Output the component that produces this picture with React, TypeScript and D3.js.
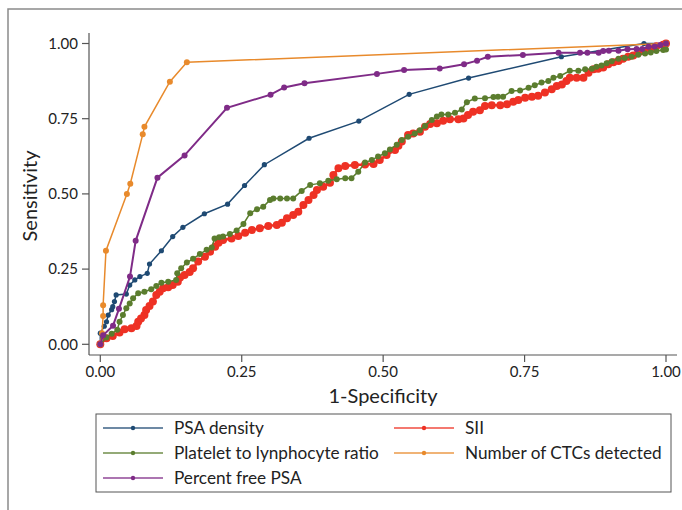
import * as d3 from 'd3';

type Pt = [number, number];

const xTicks = [0, 0.25, 0.5, 0.75, 1];
const yTicks = [0, 0.25, 0.5, 0.75, 1];

const psaDensity: Pt[] = [
  [0, 0], [0, 0.037], [0.007, 0.06], [0.011, 0.075], [0.014, 0.097], [0.02, 0.115],
  [0.022, 0.125], [0.025, 0.142], [0.028, 0.164], [0.046, 0.167], [0.052, 0.197],
  [0.061, 0.214], [0.07, 0.225], [0.083, 0.236], [0.087, 0.267], [0.108, 0.311],
  [0.128, 0.358], [0.146, 0.389], [0.184, 0.434], [0.225, 0.466], [0.255, 0.528],
  [0.29, 0.597], [0.369, 0.685], [0.457, 0.742], [0.546, 0.831], [0.651, 0.885],
  [0.815, 0.956], [0.961, 1], [1, 1],
];

const sii: Pt[] = [
  [0, 0], [0.011, 0.02], [0.022, 0.028], [0.034, 0.039], [0.043, 0.05], [0.055, 0.053],
  [0.064, 0.061], [0.067, 0.075], [0.072, 0.086], [0.078, 0.097], [0.081, 0.114],
  [0.087, 0.127], [0.093, 0.142], [0.099, 0.164], [0.105, 0.175], [0.111, 0.186],
  [0.12, 0.19], [0.128, 0.197], [0.137, 0.208], [0.141, 0.222], [0.149, 0.23],
  [0.158, 0.24], [0.164, 0.253], [0.173, 0.275], [0.185, 0.291], [0.194, 0.308],
  [0.203, 0.324], [0.209, 0.338], [0.217, 0.347], [0.232, 0.352], [0.244, 0.36],
  [0.256, 0.371], [0.268, 0.38], [0.282, 0.386], [0.297, 0.393], [0.312, 0.397],
  [0.321, 0.404], [0.33, 0.419], [0.341, 0.43], [0.35, 0.441], [0.359, 0.463],
  [0.368, 0.48], [0.377, 0.496], [0.383, 0.513], [0.394, 0.524], [0.406, 0.537],
  [0.412, 0.563], [0.421, 0.585], [0.433, 0.593], [0.45, 0.596], [0.468, 0.598],
  [0.483, 0.599], [0.494, 0.613], [0.506, 0.629], [0.521, 0.646], [0.527, 0.66],
  [0.533, 0.674], [0.544, 0.696], [0.553, 0.701], [0.565, 0.707], [0.574, 0.723],
  [0.583, 0.732], [0.595, 0.735], [0.606, 0.743], [0.618, 0.748], [0.633, 0.748],
  [0.642, 0.751], [0.65, 0.762], [0.659, 0.773], [0.671, 0.778], [0.68, 0.792],
  [0.692, 0.795], [0.707, 0.795], [0.719, 0.798], [0.73, 0.806], [0.739, 0.812],
  [0.751, 0.82], [0.763, 0.823], [0.774, 0.826], [0.786, 0.837], [0.798, 0.848],
  [0.807, 0.859], [0.816, 0.864], [0.824, 0.875], [0.83, 0.886], [0.842, 0.886],
  [0.854, 0.886], [0.863, 0.903], [0.872, 0.914], [0.88, 0.916], [0.889, 0.92],
  [0.898, 0.931], [0.907, 0.938], [0.916, 0.942], [0.924, 0.949], [0.933, 0.956],
  [0.942, 0.96], [0.951, 0.969], [0.96, 0.975], [0.972, 0.982], [0.983, 0.991],
  [0.995, 0.996], [1, 1],
];

const plateletLymph: Pt[] = [
  [0, 0], [0.011, 0.023], [0.02, 0.035], [0.03, 0.048], [0.034, 0.075], [0.04, 0.097],
  [0.046, 0.12], [0.052, 0.136], [0.058, 0.153], [0.067, 0.17], [0.078, 0.175],
  [0.09, 0.183], [0.099, 0.194], [0.108, 0.205], [0.12, 0.208], [0.134, 0.214],
  [0.136, 0.236], [0.143, 0.253], [0.153, 0.272], [0.164, 0.284], [0.176, 0.3],
  [0.188, 0.314], [0.197, 0.322], [0.202, 0.352], [0.21, 0.356], [0.217, 0.358],
  [0.229, 0.367], [0.241, 0.378], [0.253, 0.4], [0.265, 0.436], [0.277, 0.449],
  [0.288, 0.457], [0.3, 0.48], [0.306, 0.485], [0.318, 0.485], [0.33, 0.485],
  [0.341, 0.485], [0.356, 0.51], [0.371, 0.53], [0.388, 0.535], [0.403, 0.544],
  [0.418, 0.549], [0.433, 0.552], [0.444, 0.552], [0.456, 0.574], [0.468, 0.604],
  [0.48, 0.613], [0.491, 0.624], [0.503, 0.635], [0.512, 0.648], [0.524, 0.663],
  [0.533, 0.679], [0.544, 0.69], [0.556, 0.701], [0.565, 0.712], [0.574, 0.726],
  [0.586, 0.746], [0.595, 0.757], [0.603, 0.764], [0.615, 0.764], [0.627, 0.77],
  [0.639, 0.781], [0.648, 0.805], [0.662, 0.817], [0.68, 0.818], [0.695, 0.822],
  [0.703, 0.823], [0.712, 0.823], [0.727, 0.842], [0.742, 0.844], [0.757, 0.853],
  [0.768, 0.861], [0.78, 0.87], [0.792, 0.875], [0.801, 0.886], [0.813, 0.892],
  [0.83, 0.909], [0.845, 0.909], [0.857, 0.914], [0.869, 0.916], [0.877, 0.923],
  [0.886, 0.927], [0.895, 0.934], [0.904, 0.941], [0.916, 0.949], [0.927, 0.952],
  [0.939, 0.956], [0.951, 0.963], [0.963, 0.967], [0.973, 0.97], [0.983, 0.975],
  [0.995, 0.978], [1, 0.98], [1, 1],
];

const ctcCount: Pt[] = [
  [0, 0], [0.003, 0.037], [0.005, 0.094], [0.005, 0.13], [0.01, 0.311], [0.047, 0.5],
  [0.053, 0.534], [0.075, 0.698], [0.078, 0.723], [0.123, 0.873], [0.153, 0.9375], [1, 1],
];

const percentFreePsa: Pt[] = [
  [0, 0], [0.005, 0.03], [0.0225, 0.062], [0.033, 0.118], [0.0525, 0.225], [0.0625, 0.344],
  [0.101, 0.554], [0.149, 0.628], [0.224, 0.786], [0.301, 0.83], [0.325, 0.854],
  [0.361, 0.868], [0.489, 0.899], [0.537, 0.912], [0.6, 0.917], [0.643, 0.931],
  [0.666, 0.943], [0.685, 0.956], [0.747, 0.962], [0.81, 0.969], [0.848, 0.969],
  [0.861, 0.969], [0.881, 0.969], [0.889, 0.975], [0.899, 0.976], [0.916, 0.976],
  [0.932, 0.981], [0.948, 0.982], [0.958, 0.982], [0.969, 0.989], [0.98, 0.99],
  [0.99, 0.995], [1, 1],
];

const series = [
  { name: 'PSA density', data: psaDensity, color: '#1f4a73', lw: 1.5, r: 2.6 },
  { name: 'SII', data: sii, color: '#ee3124', lw: 2.5, r: 4 },
  { name: 'Platelet to lynphocyte ratio', data: plateletLymph, color: '#5b7d2e', lw: 1.5, r: 3 },
  { name: 'Number of CTCs detected', data: ctcCount, color: '#e88a2c', lw: 1.5, r: 3 },
  { name: 'Percent free PSA', data: percentFreePsa, color: '#7f2b87', lw: 2, r: 3 },
];

const font = 'Lato, "Open Sans", sans-serif';

export default function App() {
  const width = 682;
  const height = 510;
  const x = d3.scaleLinear().domain([0, 1]).range([100.3, 666]);
  const y = d3.scaleLinear().domain([0, 1]).range([344.3, 43.5]);
  const fmt = d3.format('.2f');
  const line = d3
    .line<Pt>()
    .x((d) => x(d[0]))
    .y((d) => y(d[1]));

  // legend: row-wise, two columns
  const legendPos = series.map((s, i) => ({
    s,
    lx: i % 2 === 0 ? 103 : 394,
    ly: 428 + Math.floor(i / 2) * 25,
  }));

  return (
    <svg
      width={width}
      height={height}
      style={{ position: 'absolute', left: 0, top: 0, background: '#fff' }}
      fontFamily={font}
    >
      <rect x={8} y={9} width={720} height={560} fill="#fff" stroke="#8a8a8a" strokeWidth={1.5} />

      {/* axes */}
      <line x1={89} x2={89} y1={33} y2={355} stroke="#555" strokeWidth={1.2} />
      <line x1={89} x2={677} y1={355} y2={355} stroke="#555" strokeWidth={1.2} />
      {yTicks.map((t) => (
        <g key={'y' + t}>
          <line x1={82} x2={89} y1={y(t)} y2={y(t)} stroke="#555" strokeWidth={1.2} />
          <text x={78} y={y(t)} dy="0.35em" textAnchor="end" fontSize={15} fill="#222">
            {fmt(t)}
          </text>
        </g>
      ))}
      {xTicks.map((t) => (
        <g key={'x' + t}>
          <line x1={x(t)} x2={x(t)} y1={355} y2={362} stroke="#555" strokeWidth={1.2} />
          <text x={x(t)} y={377} textAnchor="middle" fontSize={15} fill="#222">
            {fmt(t)}
          </text>
        </g>
      ))}
      <text x={383} y={403} textAnchor="middle" fontSize={20} fill="#222">
        1-Specificity
      </text>
      <text
        transform="translate(37,196) rotate(-90)"
        textAnchor="middle"
        fontSize={20}
        fill="#222"
      >
        Sensitivity
      </text>

      {/* curves */}
      {series.map((s) => (
        <g key={s.name}>
          <path d={line(s.data) ?? ''} fill="none" stroke={s.color} strokeWidth={s.lw} />
          {s.data.map((d, i) => (
            <circle key={i} cx={x(d[0])} cy={y(d[1])} r={s.r} fill={s.color} />
          ))}
        </g>
      ))}

      {/* legend */}
      <rect x={96} y={414} width={575} height={78} fill="#fff" stroke="#555" strokeWidth={1} />
      {legendPos.map(({ s, lx, ly }) => (
        <g key={'l' + s.name}>
          <line x1={lx} x2={lx + 60} y1={ly} y2={ly} stroke={s.color} strokeWidth={2} strokeOpacity={0.65} />
          <circle cx={lx + 30} cy={ly} r={2.2} fill={s.color} />
          <text x={lx + 71} y={ly} dy="0.35em" fontSize={17.2} fill="#222">
            {s.name}
          </text>
        </g>
      ))}
    </svg>
  );
}
